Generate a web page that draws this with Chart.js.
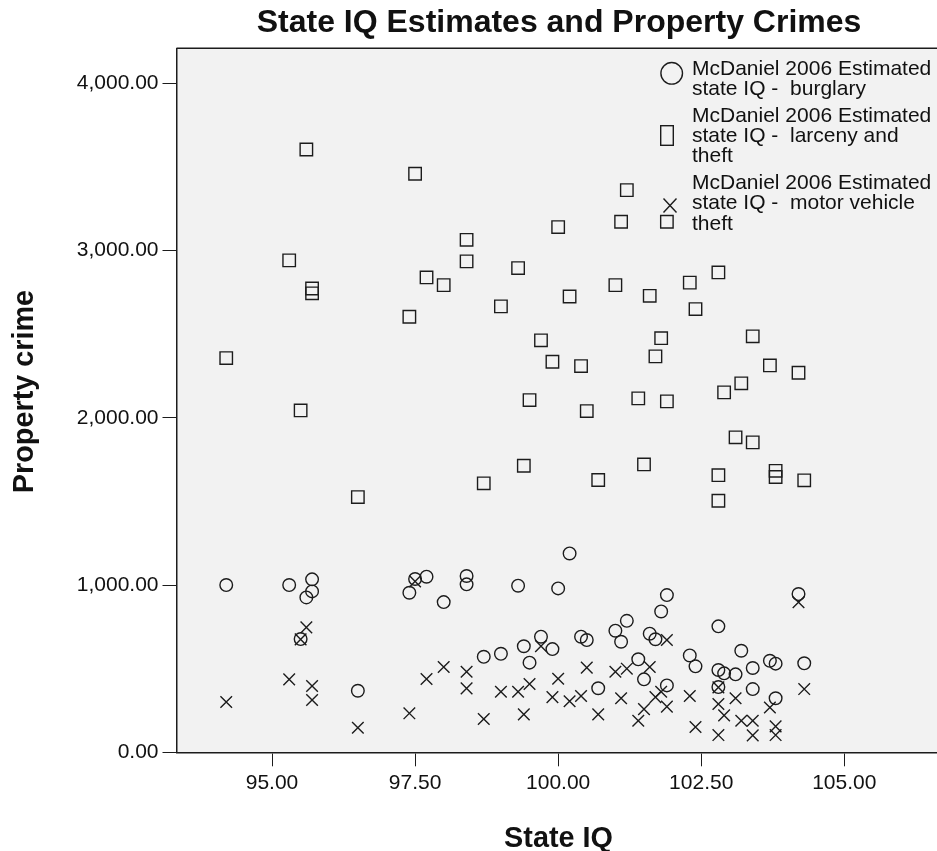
<!DOCTYPE html>
<html>
<head>
<meta charset="utf-8">
<title>State IQ Estimates and Property Crimes</title>
<script src="https://cdn.jsdelivr.net/npm/chart.js@4.4.1/dist/chart.umd.min.js"></script>
<style>
  html, body { margin: 0; padding: 0; background: #ffffff; }
  canvas { display: block; }
</style>
</head>
<body>
<canvas id="chart" width="937" height="851"></canvas>
<script>
// McDaniel (2006) estimated state IQ, one entry per state
const stateIQ = [
  94.2, 95.3, 95.5, 95.6, 95.7, 95.7, 96.5, 97.4, 97.5, 97.7,
  98.0, 98.4, 98.4, 98.7, 99.0, 99.3, 99.4, 99.5, 99.7, 99.9,
  100.0, 100.2, 100.4, 100.5, 100.7, 101.0, 101.1, 101.2, 101.4, 101.5,
  101.6, 101.7, 101.8, 101.9, 101.9, 102.3, 102.4, 102.8, 102.8, 102.8,
  102.9, 103.1, 103.2, 103.4, 103.4, 103.7, 103.8, 103.8, 104.2, 104.3
];

// Property crime rates per state, same order as stateIQ
const burglary = [
  1000, 1000, 677, 926, 1034, 962, 368, 954, 1036, 1050,
  898, 1054, 1004, 571, 589, 996, 634, 536, 691, 617,
  980, 1189, 691, 671, 383, 727, 661, 786, 556, 436,
  709, 676, 842, 940, 400, 579, 514, 753, 492, 390,
  472, 466, 607, 504, 378, 547, 530, 323, 946, 532
];

const larcenyTheft = [
  2357, 2941, 2044, 3604, 2773, 2744, 1526, 2604, 3459, 2839,
  2793, 3064, 2935, 1608, 2666, 2895, 1713, 2106, 2463, 2335,
  3140, 2725, 2309, 2040, 1628, 2793, 3172, 3361, 2116, 1721,
  2729, 2367, 2476, 2098, 3172, 2808, 2650, 2869, 1504, 1657,
  2152, 1883, 2206, 1853, 2487, 2313, 1683, 1646, 2269, 1626
];

const motorVehicleTheft = [
  301, 436, 675, 747, 396, 313, 147, 233, 1022, 438,
  510, 482, 382, 199, 362, 362, 227, 408, 635, 330,
  440, 305, 337, 506, 227, 482, 323, 500, 189, 258,
  510, 330, 362, 671, 273, 337, 151, 388, 289, 103,
  221, 323, 189, 189, 101, 268, 155, 103, 897, 378
];

const xTickValues = [95, 97.5, 100, 102.5, 105];
const yTickValues = [0, 1000, 2000, 3000, 4000];

const legendLines = [
  ['McDaniel 2006 Estimated', 'state IQ -  burglary'],
  ['McDaniel 2006 Estimated', 'state IQ -  larceny and', 'theft'],
  ['McDaniel 2006 Estimated', 'state IQ -  motor vehicle', 'theft']
];

const chartTitle = 'State IQ Estimates and Property Crimes';
const xTitle = 'State IQ';
const yTitle = 'Property crime';

const INK = '#1c1c1c';
const FONT = "'Liberation Sans', Arial, Helvetica, sans-serif";

function pairs(values) {
  return stateIQ.map((iq, i) => ({ x: iq, y: values[i] }));
}

// Plot background, frame top edge, titles and the in-plot legend
const decorations = {
  id: 'decorations',
  beforeDraw(chart) {
    const { ctx, chartArea: a } = chart;
    ctx.save();
    ctx.fillStyle = '#f2f2f2';
    ctx.fillRect(a.left, a.top, a.right - a.left + 2, a.bottom - a.top);
    ctx.restore();
  },
  afterDraw(chart) {
    const { ctx, chartArea: a } = chart;
    ctx.save();
    // top edge of the plot frame
    ctx.strokeStyle = INK;
    ctx.lineWidth = 1.5;
    ctx.beginPath();
    ctx.moveTo(a.left, a.top);
    ctx.lineTo(a.right + 2, a.top);
    ctx.stroke();

    // chart title
    ctx.fillStyle = '#111';
    ctx.textAlign = 'center';
    ctx.textBaseline = 'alphabetic';
    ctx.font = 'bold 32px ' + FONT;
    ctx.fillText(chartTitle, 559, 32);

    // axis titles
    ctx.font = 'bold 28.8px ' + FONT;
    ctx.fillText(xTitle, 558.5, 847);
    ctx.save();
    ctx.translate(33.3, 391.5);
    ctx.rotate(-Math.PI / 2);
    ctx.fillText(yTitle, 0, 0);
    ctx.restore();

    // legend
    ctx.font = '21px ' + FONT;
    ctx.textAlign = 'left';
    const textX = 692;
    const lineH = 20.2;
    let base = 74.5;
    legendLines.forEach((lines) => {
      lines.forEach((t, j) => ctx.fillText(t, textX, base + j * lineH));
      base += (lines.length - 1) * lineH + 27;
    });

    ctx.strokeStyle = INK;
    ctx.lineWidth = 1.4;
    // circle
    ctx.beginPath();
    ctx.arc(671.7, 73.3, 10.8, 0, Math.PI * 2);
    ctx.stroke();
    // square
    ctx.strokeRect(660.7, 125.7, 12.6, 19.6);
    // cross
    ctx.beginPath();
    ctx.moveTo(663.5, 198.5); ctx.lineTo(676.5, 212.5);
    ctx.moveTo(676.5, 198.5); ctx.lineTo(663.5, 212.5);
    ctx.stroke();
    ctx.restore();
  }
};

const markerBase = {
  showLine: false,
  borderColor: INK,
  backgroundColor: 'rgba(0,0,0,0)',
  borderWidth: 1.4,
  pointHoverRadius: 0
};

function noEdgePadding(scale) {
  scale.paddingLeft = 0;
  scale.paddingRight = 0;
  scale.paddingTop = 0;
  scale.paddingBottom = 0;
}

new Chart(document.getElementById('chart'), {
  type: 'scatter',
  data: {
    datasets: [
      Object.assign({}, markerBase, {
        label: legendLines[0].join(' '),
        data: pairs(burglary),
        pointStyle: 'circle',
        pointRadius: 6.3
      }),
      Object.assign({}, markerBase, {
        label: legendLines[1].join(' '),
        data: pairs(larcenyTheft),
        pointStyle: 'rect',
        pointRadius: 8.8
      }),
      Object.assign({}, markerBase, {
        label: legendLines[2].join(' '),
        data: pairs(motorVehicleTheft),
        pointStyle: 'crossRot',
        pointRadius: 8.2
      })
    ]
  },
  options: {
    responsive: false,
    animation: false,
    devicePixelRatio: 1,
    events: [],
    layout: { autoPadding: false, padding: { top: 48.3, left: 0, right: 0, bottom: 0 } },
    plugins: {
      legend: { display: false },
      title: { display: false },
      tooltip: { enabled: false }
    },
    scales: {
      x: {
        type: 'linear',
        min: 93.331,
        max: 106.62,
        afterFit(scale) { scale.height = 98.7; noEdgePadding(scale); },
        afterBuildTicks(scale) { scale.ticks = xTickValues.map(v => ({ value: v })); },
        border: { display: true, color: INK, width: 1.5 },
        grid: {
          display: true, drawOnChartArea: false, drawTicks: true,
          tickLength: 14, tickColor: INK, tickWidth: 1
        },
        ticks: {
          autoSkip: false,
          maxRotation: 0,
          padding: 4,
          color: '#111',
          font: { family: FONT, size: 21 },
          callback: v => Number(v).toFixed(2)
        }
      },
      y: {
        type: 'linear',
        min: 0,
        max: 4209,
        afterFit(scale) { scale.width = 176.5; noEdgePadding(scale); },
        afterBuildTicks(scale) { scale.ticks = yTickValues.map(v => ({ value: v })); },
        border: { display: true, color: INK, width: 1.5 },
        grid: {
          display: true, drawOnChartArea: false, drawTicks: true,
          tickLength: 14, tickColor: INK, tickWidth: 1
        },
        ticks: {
          autoSkip: false,
          padding: 4,
          color: '#111',
          font: { family: FONT, size: 21 },
          callback: v => Number(v).toLocaleString('en-US', { minimumFractionDigits: 2, maximumFractionDigits: 2 })
        }
      }
    }
  },
  plugins: [decorations]
});
</script>
</body>
</html>
